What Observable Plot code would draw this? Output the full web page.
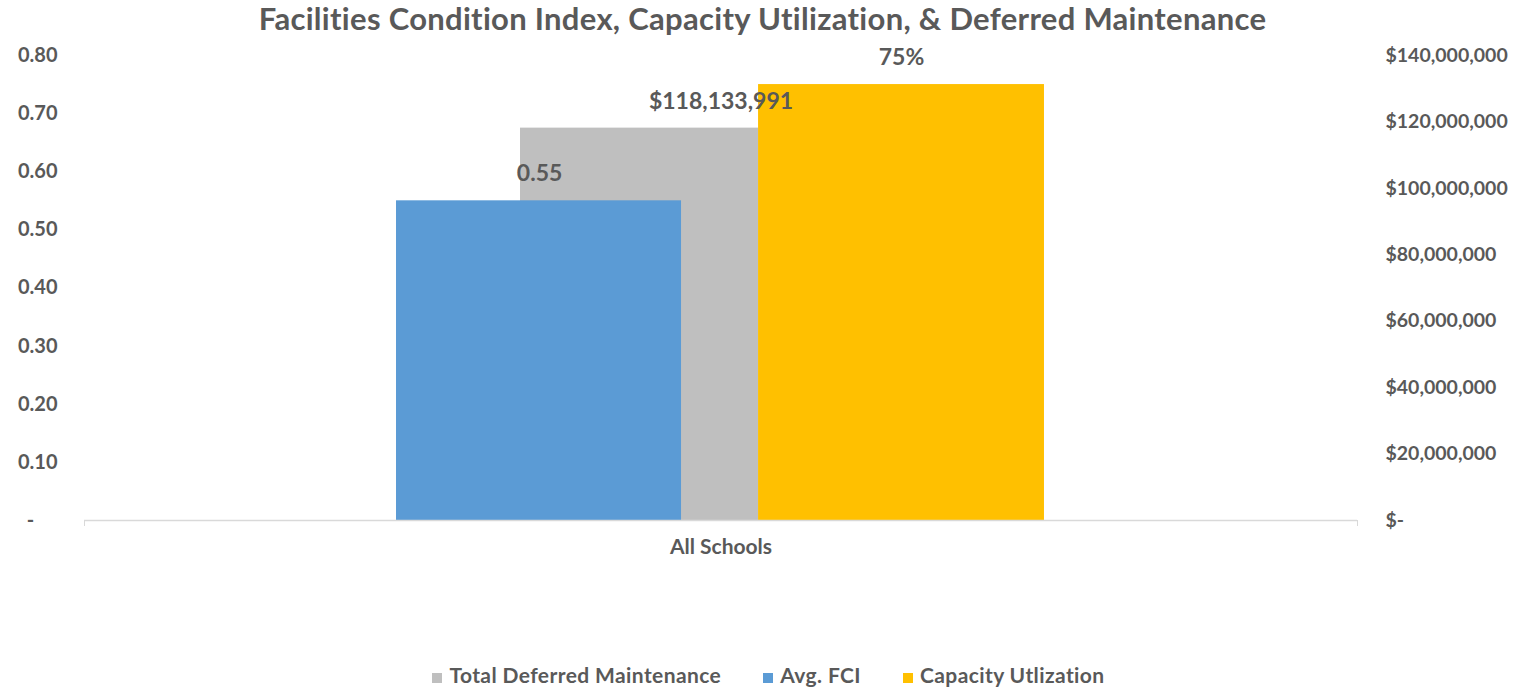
<!DOCTYPE html>
<html><head><meta charset="utf-8">
<script src="https://cdn.jsdelivr.net/npm/d3@7"></script>
<script src="https://cdn.jsdelivr.net/npm/@observablehq/plot@0.6"></script>
<style>
body{margin:0;background:#fff;font-family:Lato,"Open Sans",sans-serif;color:#595959;width:1525px;}
#title{height:36px;line-height:36px;text-align:center;font-weight:bold;font-size:31px;letter-spacing:0.3px;}
#legend{margin-top:79px;height:30px;line-height:30px;display:flex;justify-content:center;font-size:21px;font-weight:bold;gap:42px;letter-spacing:0.4px;padding-left:12px;}
#legend span.sw{display:inline-block;width:10px;height:10px;margin-right:7px;}
</style></head><body>
<div id="title">Facilities Condition Index, Capacity Utilization, &amp; Deferred Maintenance</div>
<div id="chart"></div>
<div id="legend"></div>
<script>
// ---- data ----
const category = "All Schools";
const seriesNames = ["Total Deferred Maintenance", "Avg. FCI", "Capacity Utlization"];
const seriesValues = [118133991, 0.55, 0.75];
const seriesAxis = ["right", "left", "left"];
const leftTicks = [0, 0.1, 0.2, 0.3, 0.4, 0.5, 0.6, 0.7, 0.8];
const rightTicks = [0, 20000000, 40000000, 60000000, 80000000, 100000000, 120000000, 140000000];

// ---- styles / layout ----
const colors = {"Total Deferred Maintenance": "#BFBFBF", "Avg. FCI": "#5B9BD5", "Capacity Utlization": "#FFC000"};
const formats = {
  "Total Deferred Maintenance": v => "$" + d3.format(",")(v),
  "Avg. FCI": d3.format(".2f"),
  "Capacity Utlization": d3.format(".0%")
};
// bar placement within the category, in category units (Excel-like gap/overlap)
const place = {
  "Total Deferred Maintenance": {x1: -0.1575, x2: 0.0295, lx: 0},
  "Avg. FCI": {x1: -0.2549, x2: -0.031, lx: -0.1425},
  "Capacity Utlization": {x1: 0.0295, x2: 0.2541, lx: 0.1418}
};
const leftMax = d3.max(leftTicks), rightMax = d3.max(rightTicks);
const toLeft = (v, axis) => axis === "right" ? v / rightMax * leftMax : v;

const rows = seriesNames.map((s, i) => ({
  series: s, value: seriesValues[i], y: toLeft(seriesValues[i], seriesAxis[i]),
  x1: place[s].x1, x2: place[s].x2, lx: place[s].lx, label: formats[s](seriesValues[i])
}));

const chart = Plot.plot({
  width: 1525, height: 545,
  marginLeft: 84, marginRight: 168, marginTop: 19, marginBottom: 61,
  style: {fontFamily: "Lato, 'Open Sans', sans-serif", fontSize: "20px", fontWeight: "bold", color: "#595959", background: "#fff"},
  x: {type: "linear", domain: [-0.5, 0.5], axis: null},
  y: {domain: [0, leftMax], axis: null},
  marks: [
    Plot.rectY(rows, {x1: "x1", x2: "x2", y1: 0, y2: "y", fill: d => colors[d.series]}),
    Plot.ruleY([0], {stroke: "#D9D9D9", strokeWidth: 1.5}),
    Plot.axisX([-0.5, 0.5], {tickSize: 6, stroke: "#D9D9D9", tickFormat: () => "", label: null}),
    Plot.axisX([0], {tickSize: 0, tickPadding: 19, tickFormat: () => category, fontSize: 21, label: null}),
    Plot.axisY(leftTicks, {anchor: "left", tickSize: 0, tickPadding: 27, label: null,
      tickFormat: d => d === 0 ? "-\u2007\u2007" : d3.format(".2f")(d)}),
    Plot.axisY(rightTicks.map(v => toLeft(v, "right")), {anchor: "right", tickSize: 0, tickPadding: 28, label: null, fontSize: 19.5,
      tickFormat: d => { const v = Math.round(d / leftMax * rightMax); return v === 0 ? "$-" : "$" + d3.format(",")(v); }}),
    Plot.text(rows, {x: "lx", y: "y", text: "label", dy: -27, fill: "#595959", fontSize: 23, fontWeight: "bold"})
  ]
});
document.getElementById("chart").appendChild(chart);

const legend = document.getElementById("legend");
["Total Deferred Maintenance", "Avg. FCI", "Capacity Utlization"].forEach(s => {
  const item = document.createElement("div");
  item.innerHTML = `<span class="sw" style="background:${colors[s]}"></span>${s}`;
  legend.appendChild(item);
});
</script>
</body></html>
